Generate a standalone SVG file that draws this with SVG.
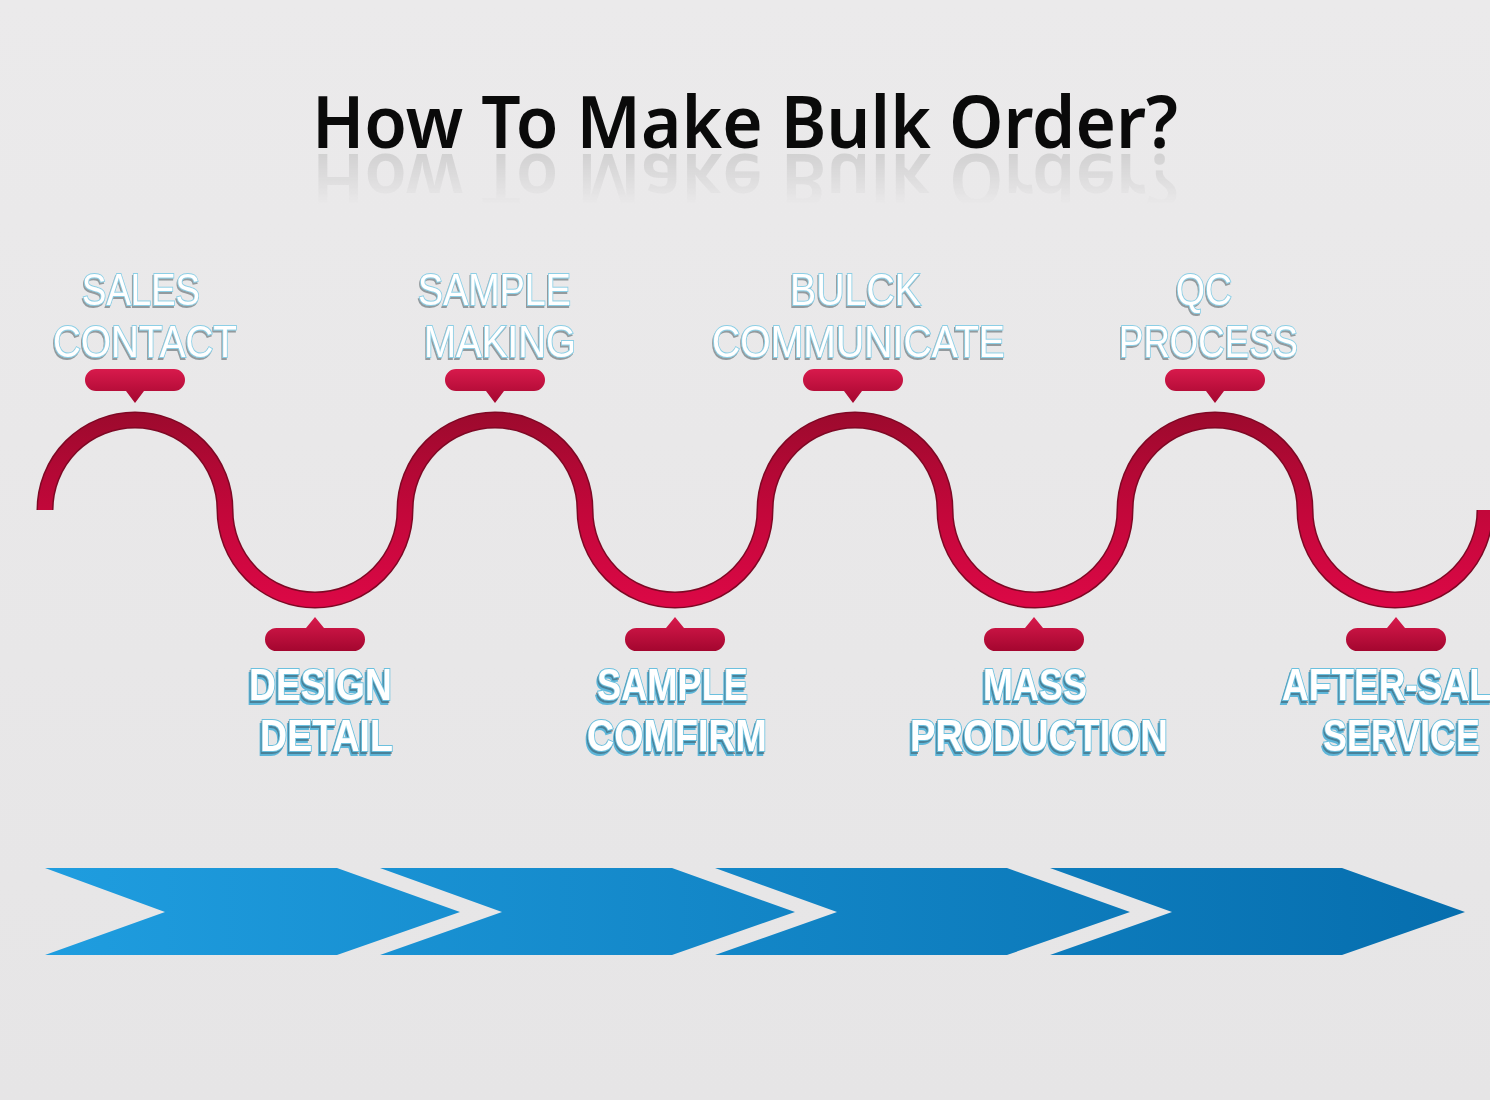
<svg xmlns="http://www.w3.org/2000/svg" width="1490" height="1100" viewBox="0 0 1490 1100">
<defs>
<style>
.title{font-family:"Noto Sans","Liberation Sans",sans-serif;font-size:72px;font-weight:600;fill:#0a0a0a}
.refl{font-family:"Noto Sans","Liberation Sans",sans-serif;font-size:72px;font-weight:600;fill:#a8a8a8}
.top{font-family:"Liberation Sans Narrow","Liberation Sans",Arial,sans-serif;font-size:45px;font-weight:400;fill:#ffffff;stroke:#8ccfe6;stroke-width:2;paint-order:stroke}
.bot{font-family:"Liberation Sans Narrow","Liberation Sans",Arial,sans-serif;font-size:45px;font-weight:700;fill:#ffffff;stroke:#6cc0de;stroke-width:2;paint-order:stroke}
.tab{fill:url(#tabGrad)}
</style>
<linearGradient id="bgGrad" x1="0" y1="0" x2="0" y2="1">
<stop offset="0" stop-color="#ebeaeb"/>
<stop offset="1" stop-color="#e6e5e6"/>
</linearGradient>
<linearGradient id="waveGrad" gradientUnits="userSpaceOnUse" x1="0" y1="412" x2="0" y2="608">
<stop offset="0" stop-color="#9c0a2d"/>
<stop offset="0.5" stop-color="#c2073a"/>
<stop offset="1" stop-color="#dc0846"/>
</linearGradient>
<linearGradient id="tabGrad" x1="0" y1="0" x2="0" y2="1">
<stop offset="0" stop-color="#d81a4c"/>
<stop offset="1" stop-color="#a4062f"/>
</linearGradient>
<linearGradient id="chevGrad" gradientUnits="userSpaceOnUse" x1="45" y1="0" x2="1465" y2="0">
<stop offset="0" stop-color="#1f9ddf"/>
<stop offset="1" stop-color="#066eae"/>
</linearGradient>
<linearGradient id="reflFade" x1="0" y1="0" x2="0" y2="1">
<stop offset="0" stop-color="#fff" stop-opacity="0.4"/>
<stop offset="1" stop-color="#fff" stop-opacity="0"/>
</linearGradient>
<mask id="reflMask" maskUnits="userSpaceOnUse" x="0" y="150" width="1490" height="60">
<rect x="0" y="150" width="1490" height="54" fill="url(#reflFade)"/>
</mask>
<filter id="txtTop" x="-10%" y="-20%" width="120%" height="150%">
<feOffset in="SourceAlpha" dx="-1.5" dy="2" result="o1"/>
<feFlood flood-color="#4a5a60" flood-opacity="0.55"/>
<feComposite in2="o1" operator="in" result="d1"/>
<feMerge><feMergeNode in="d1"/><feMergeNode in="SourceGraphic"/></feMerge>
</filter>
<filter id="txtBot" x="-10%" y="-20%" width="120%" height="150%">
<feOffset in="SourceAlpha" dx="-2.5" dy="3.5" result="o1"/>
<feFlood flood-color="#5db6d9"/>
<feComposite in2="o1" operator="in" result="b1"/>
<feOffset in="SourceAlpha" dx="-1.2" dy="1.8" result="o2"/>
<feFlood flood-color="#3a4448" flood-opacity="0.6"/>
<feComposite in2="o2" operator="in" result="d2"/>
<feMerge><feMergeNode in="b1"/><feMergeNode in="d2"/><feMergeNode in="SourceGraphic"/></feMerge>
</filter>
<path id="tabTop" d="M-39,0 H39 A11,11 0 0 1 39,22 H9 L0,34 L-9,22 H-39 A11,11 0 0 1 -39,0 Z"/>
<path id="tabBot" d="M-38.5,0 H-9 L0,-11 L9,0 H38.5 A11.5,11.5 0 0 1 38.5,23 H-38.5 A11.5,11.5 0 0 1 -38.5,0 Z"/>
</defs>

<rect x="0" y="0" width="1490" height="1100" fill="url(#bgGrad)"/>

<g id="title">
<text class="title" x="312" y="148" textLength="866" lengthAdjust="spacingAndGlyphs">How To Make Bulk Order?</text>
<g mask="url(#reflMask)" aria-hidden="true">
<text class="refl" x="312" y="148" textLength="866" lengthAdjust="spacingAndGlyphs" transform="translate(0,302) scale(1,-1)">How To Make Bulk Order?</text>
</g>
</g>

<g id="connectors">
<path id="wave-edge" d="M45,510 A90,90 0 0 1 225,510 A90,90 0 0 0 405,510 A90,90 0 0 1 585,510 A90,90 0 0 0 765,510 A90,90 0 0 1 945,510 A90,90 0 0 0 1125,510 A90,90 0 0 1 1305,510 A90,90 0 0 0 1485,510" fill="none" stroke="#7e0824" stroke-width="17"/>
<path id="wave" d="M45,510 A90,90 0 0 1 225,510 A90,90 0 0 0 405,510 A90,90 0 0 1 585,510 A90,90 0 0 0 765,510 A90,90 0 0 1 945,510 A90,90 0 0 0 1125,510 A90,90 0 0 1 1305,510 A90,90 0 0 0 1485,510" fill="none" stroke="url(#waveGrad)" stroke-width="14"/>
</g>

<g id="step-sales-contact">
<use href="#tabTop" class="tab" transform="translate(135,369)"/>
<g filter="url(#txtTop)">
<text class="top" x="82" y="305" textLength="118" lengthAdjust="spacingAndGlyphs">SALES</text>
<text class="top" x="53" y="357" textLength="184" lengthAdjust="spacingAndGlyphs">CONTACT</text>
</g>
</g>

<g id="step-design-detail">
<use href="#tabBot" class="tab" transform="translate(315,628)"/>
<g filter="url(#txtBot)">
<text class="bot" x="249" y="700" textLength="143" lengthAdjust="spacingAndGlyphs">DESIGN</text>
<text class="bot" x="260" y="751" textLength="133" lengthAdjust="spacingAndGlyphs">DETAIL</text>
</g>
</g>

<g id="step-sample-making">
<use href="#tabTop" class="tab" transform="translate(495,369)"/>
<g filter="url(#txtTop)">
<text class="top" x="418" y="305" textLength="153" lengthAdjust="spacingAndGlyphs">SAMPLE</text>
<text class="top" x="424" y="357" textLength="152" lengthAdjust="spacingAndGlyphs">MAKING</text>
</g>
</g>

<g id="step-sample-comfirm">
<use href="#tabBot" class="tab" transform="translate(675,628)"/>
<g filter="url(#txtBot)">
<text class="bot" x="597" y="700" textLength="151" lengthAdjust="spacingAndGlyphs">SAMPLE</text>
<text class="bot" x="587" y="751" textLength="180" lengthAdjust="spacingAndGlyphs">COMFIRM</text>
</g>
</g>

<g id="step-bulck-communicate">
<use href="#tabTop" class="tab" transform="translate(853,369)"/>
<g filter="url(#txtTop)">
<text class="top" x="790" y="305" textLength="131" lengthAdjust="spacingAndGlyphs">BULCK</text>
<text class="top" x="712" y="357" textLength="293" lengthAdjust="spacingAndGlyphs">COMMUNICATE</text>
</g>
</g>

<g id="step-mass-production">
<use href="#tabBot" class="tab" transform="translate(1034,628)"/>
<g filter="url(#txtBot)">
<text class="bot" x="983" y="700" textLength="104" lengthAdjust="spacingAndGlyphs">MASS</text>
<text class="bot" x="910" y="751" textLength="258" lengthAdjust="spacingAndGlyphs">PRODUCTION</text>
</g>
</g>

<g id="step-qc-process">
<use href="#tabTop" class="tab" transform="translate(1215,369)"/>
<g filter="url(#txtTop)">
<text class="top" x="1176" y="305" textLength="56" lengthAdjust="spacingAndGlyphs">QC</text>
<text class="top" x="1119" y="357" textLength="179" lengthAdjust="spacingAndGlyphs">PROCESS</text>
</g>
</g>

<g id="step-after-sales-service">
<use href="#tabBot" class="tab" transform="translate(1396,628)"/>
<g filter="url(#txtBot)">
<text class="bot" x="1282" y="700" textLength="210" lengthAdjust="spacingAndGlyphs">AFTER-SAL</text>
<text class="bot" x="1323" y="751" textLength="157" lengthAdjust="spacingAndGlyphs">SERVICE</text>
</g>
</g>

<g id="chevrons" fill="url(#chevGrad)">
<polygon points="45,868 337,868 460,912 337,955 45,955 165,912"/>
<polygon points="380,868 672,868 795,912 672,955 380,955 502,912"/>
<polygon points="715,868 1007,868 1130,912 1007,955 715,955 837,912"/>
<polygon points="1050,868 1342,868 1465,912 1342,955 1050,955 1172,912"/>
</g>
</svg>
